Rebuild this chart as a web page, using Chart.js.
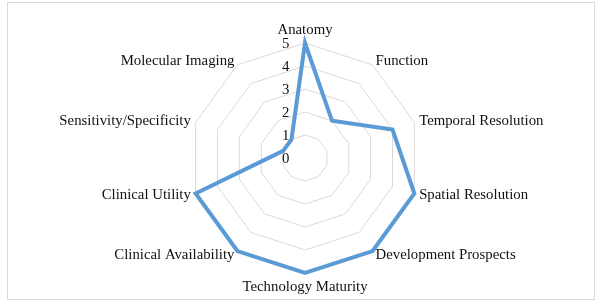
<!DOCTYPE html>
<html>
<head>
<meta charset="utf-8">
<script src="https://cdn.jsdelivr.net/npm/chart.js@4"></script>
<style>
  html, body { margin: 0; padding: 0; background: #fff; }
  #frame { position: absolute; left: 7px; top: 2px; width: 586px; height: 296px; border: 1px solid #d9d9d9; }
  #wrap { position: absolute; left: 0; top: 0; width: 596px; height: 307px; }
</style>
</head>
<body>
<div id="frame"></div>
<div id="wrap"><canvas id="c" width="596" height="307"></canvas></div>
<script>
const categories = ["Anatomy", "Function", "Temporal Resolution", "Spatial Resolution", "Development Prospects", "Technology Maturity", "Clinical Availability", "Clinical Utility", "Sensitivity/Specificity", "Molecular Imaging"];
const seriesValues = [5, 2, 4, 5, 5, 5, 5, 5, 1, 1];
const tickLabels = ["0", "1", "2", "3", "4", "5"];

const FONT = "'Liberation Serif', 'Times New Roman', serif";
const FONT_SIZE = 14.8;
const TEXT_COLOR = "#111111";

const labelPlugin = {
  id: 'excelLabels',
  afterDraw(chart) {
    const s = chart.scales.r;
    const ctx = chart.ctx;
    ctx.save();
    ctx.font = FONT_SIZE + "px " + FONT;
    ctx.fillStyle = TEXT_COLOR;
    // tick labels, left of the vertical axis
    ctx.textAlign = "right";
    ctx.textBaseline = "middle";
    tickLabels.forEach(t => {
      const r = s.getDistanceFromCenterForValue(Number(t));
      ctx.fillText(t, s.xCenter - 15.5, s.yCenter - r + 1);
    });
    // category labels
    const n = chart.data.labels.length;
    chart.data.labels.forEach((lab, i) => {
      const p = s.getPointPosition(i, s.drawingArea + 5);
      const dx = p.x - s.xCenter;
      if (Math.abs(dx) < 1) {
        ctx.textAlign = "center";
        if (p.y < s.yCenter) { ctx.textBaseline = "bottom"; ctx.fillText(lab, p.x, p.y); }
        else { ctx.textBaseline = "top"; ctx.fillText(lab, p.x, p.y + 2); }
      } else {
        ctx.textAlign = dx > 0 ? "left" : "right";
        ctx.textBaseline = "middle";
        ctx.fillText(lab, p.x, p.y);
      }
    });
    ctx.restore();
  }
};

new Chart(document.getElementById('c'), {
  type: 'radar',
  data: {
    labels: categories,
    datasets: [{
      data: seriesValues,
      borderColor: '#5b9bd5',
      backgroundColor: 'rgba(0,0,0,0)',
      borderWidth: 4,
      pointRadius: 0,
      fill: false,
      tension: 0
    }]
  },
  options: {
    responsive: false,
    animation: false,
    devicePixelRatio: 1,
    layout: { padding: { left: 14, right: 0, top: 43, bottom: 34 } },
    plugins: { legend: { display: false }, tooltip: { enabled: false } },
    scales: {
      r: {
        min: 0, max: 5,
        ticks: { display: false, stepSize: 1 },
        grid: { color: '#d9d9d9', lineWidth: 1 },
        angleLines: { display: false },
        pointLabels: { display: false }
      }
    }
  },
  plugins: [labelPlugin]
});
</script>
</body>
</html>
